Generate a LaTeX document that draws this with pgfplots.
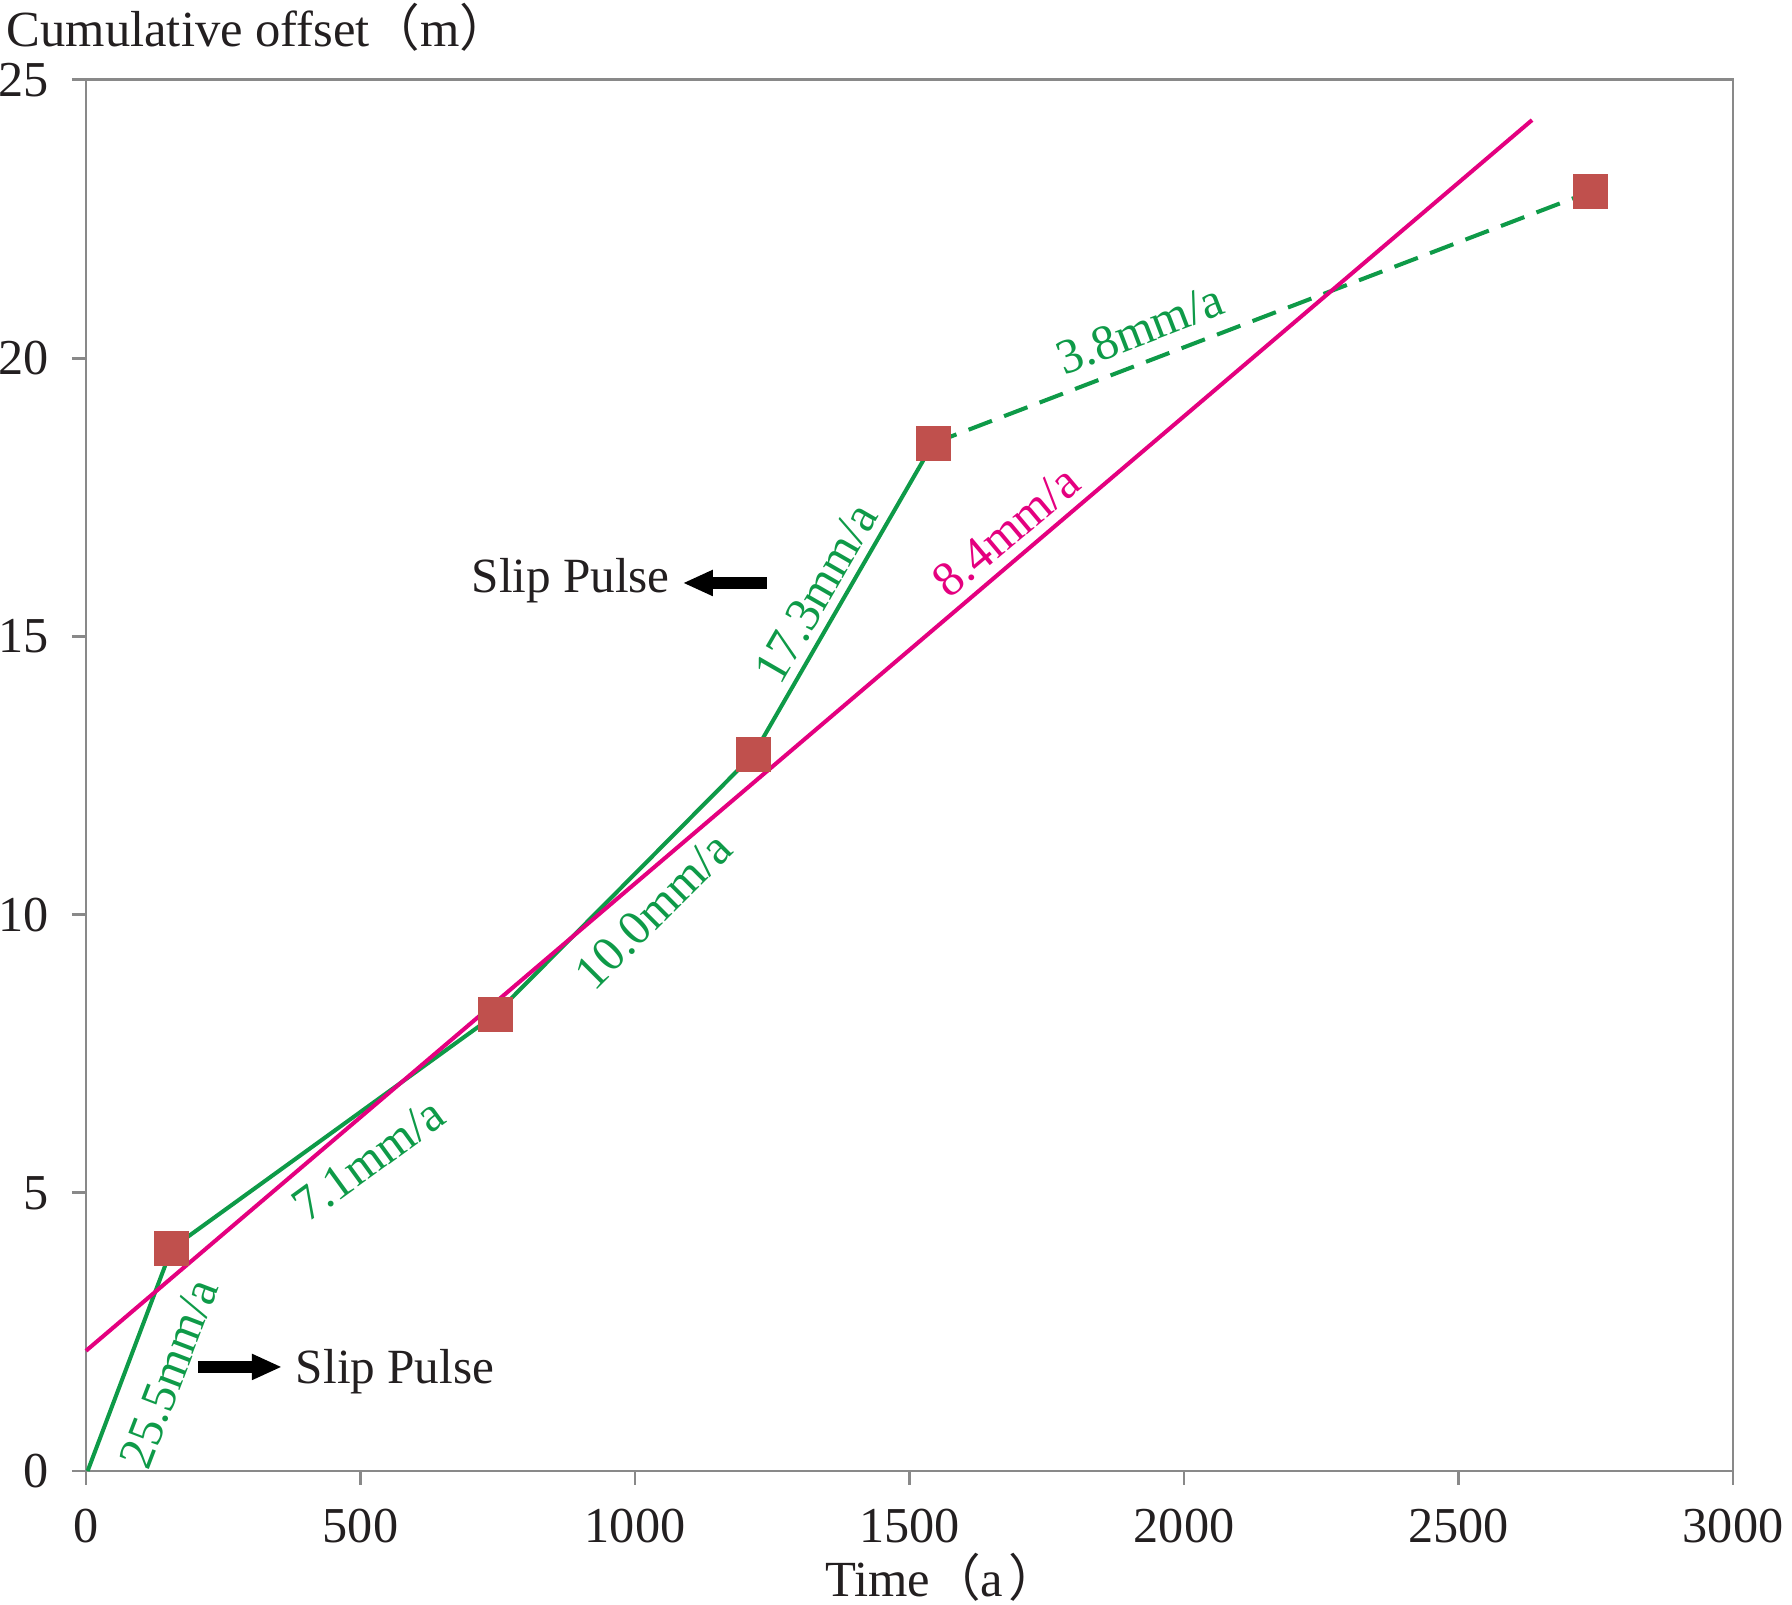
\documentclass[border=0pt]{standalone}
\usepackage{fontspec}
\setmainfont{Liberation Serif}
\newfontfamily\cjk{Noto Sans CJK SC}
\usepackage{pgfplots}
\pgfplotsset{compat=1.18}
\usetikzlibrary{arrows.meta}
\definecolor{lgreen}{HTML}{0E9A48}
\definecolor{lmag}{HTML}{E4007F}
\definecolor{lred}{HTML}{C0504D}
\definecolor{axgray}{HTML}{898989}
\definecolor{txt}{HTML}{231F20}
\begin{document}
\fontsize{14}{17}\selectfont
\begin{tikzpicture}
\useasboundingbox (-0.86,-1.34) rectangle (17.06,14.71);
\begin{axis}[
  at={(0,0)}, anchor=south west,
  scale only axis, width=16.47cm, height=13.91cm,
  xmin=0, xmax=3000, ymin=0, ymax=25,
  xtick={0,500,...,3000}, ytick={0,5,...,25},
  tick pos=left, tick align=outside, major tick length=0.14cm,
  axis line style={axgray, line width=0.85pt},
  tick style={axgray, line width=0.85pt},
  tick label style={font=\fontsize{14.3}{17}\selectfont, text=txt},
  /pgf/number format/assume math mode=true,
  /pgf/number format/set thousands separator={},
  yticklabel style={xshift=-0.06cm},
  xticklabel style={yshift=-0.07cm},
  clip=false,
]
\addplot[lgreen, line width=1.15pt] coordinates {(3,0) (156,4.0) (745,8.2) (1216,12.88) (1543,18.47)};
\addplot[lgreen, line width=1.15pt, dash pattern=on 0.25cm off 0.13cm] coordinates {(1543,18.47) (2740,22.99)};
\addplot[lmag, line width=1.15pt] coordinates {(0,2.16) (2634,24.28)};
\addplot[only marks, mark=square*, mark size=0.17cm, mark options={fill=lred, draw=lred, line width=0pt, rounded corners=0.6pt}] coordinates {(156,4.0) (745,8.2) (1216,12.88) (1543,18.47) (2740,22.99)};

\node[lgreen, rotate=69] at (axis cs:151,1.75) {25.5mm/a};
\node[lgreen, rotate=36] at (axis cs:514,5.59) {7.1mm/a};
\node[lgreen, rotate=45] at (axis cs:1033,10.07) {10.0mm/a};
\node[lgreen, rotate=60] at (axis cs:1330,15.78) {17.3mm/a};
\node[lgreen, rotate=21] at (axis cs:1920,20.52) {3.8mm/a};
\node[lmag, rotate=40] at (axis cs:1676,16.89) {8.4mm/a};

\draw[black, line width=0.12cm, -{Triangle[length=0.3cm,width=0.24cm]}] (axis cs:1240,15.96) -- (axis cs:1087,15.96);
\draw[black, line width=0.12cm, -{Triangle[length=0.3cm,width=0.24cm]}] (axis cs:204,1.87) -- (axis cs:357,1.87);
\node[anchor=base, text=txt] at (axis cs:883,15.78) {Slip Pulse};
\node[anchor=base, text=txt] at (axis cs:563,1.58) {Slip Pulse};
\end{axis}
\node[anchor=base west, inner sep=0, text=txt, font=\fontsize{14.4}{17}\selectfont] at (-0.80,14.24) {Cumulative offset{\cjk （}m{\cjk ）}};
\node[anchor=base, inner sep=0, text=txt, font=\fontsize{14.4}{17}\selectfont] at (8.56,-1.26) {Time{\cjk （}a\hspace{0.1em}{\cjk ）}};
\end{tikzpicture}
\end{document}
